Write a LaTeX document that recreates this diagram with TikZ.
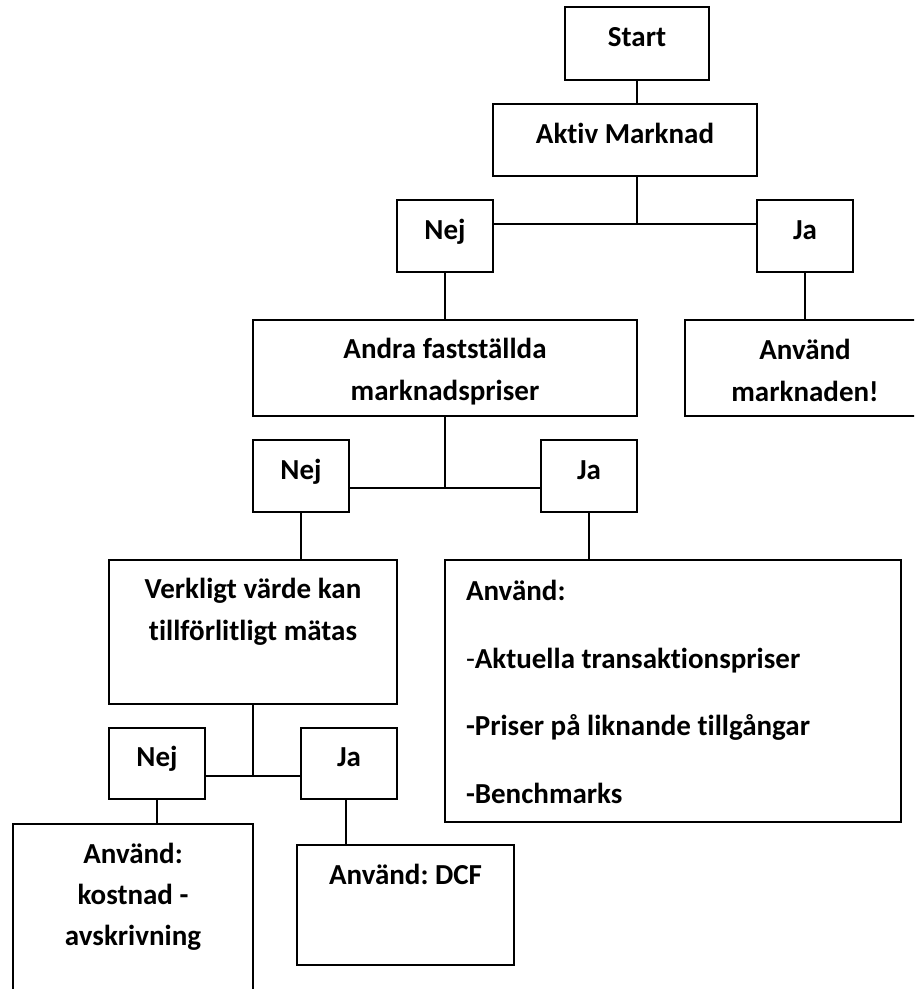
\documentclass[tikz,border=0pt]{standalone}
\usepackage{fontspec}
\setmainfont{Carlito}[Ligatures=NoCommon]

\begin{document}
\begin{tikzpicture}[x=1pt,y=-1pt,semithick,
    every edge/.append style={line width=1.6pt},
    box/.style={draw=black,line width=2pt,inner sep=0pt,align=center,
        font=\bfseries\fontsize{29}{42}\selectfont\frenchspacing},
    short/.style={box,text height=20pt,text depth=14pt}]
            \useasboundingbox (0,0) rectangle (914,989);
            \clip (0,0) rectangle (914,989);
            \node[short,minimum width=144pt,minimum height=73pt](Start)at(637, 43.5){Start};
            \node[short,minimum width=264pt,minimum height=72pt](Aktiv)at(625, 140){Aktiv Marknad};
            \node[short,minimum width=96pt,minimum height=72pt](nej1)at(445, 236){Nej};
            \node[short,minimum width=96pt,minimum height=72pt](ja1)at(805, 236){Ja};
            \node[box](Andra)at(445, 368){\parbox[c][96pt][t]{384pt}{\vspace*{18.5pt}\centering
                Andra fastställda\\marknadspriser}};
            \node[box](marknad)at(805, 368){\parbox[c][96pt][t]{240pt}{\vspace*{19.5pt}\centering
                Använd\\marknaden!}};
            \node[short,minimum width=96pt,minimum height=72pt](nej2)at(301, 476){Nej};
            \node[short,minimum width=96pt,minimum height=72pt](ja2)at(589, 476){Ja};
            \node[box](Verkligt)at(253, 632){\parbox[c][144pt][t]{288pt}{\vspace*{18.5pt}\centering
                Verkligt värde kan\\tillförlitligt mätas}};
            \node[box](lista)at(673, 691){\parbox[c][262pt][t]{456pt}{\vspace*{20pt}\raggedright\leftskip=21pt
                Använd:\\[26pt]{\mdseries -}Aktuella transaktionspriser\\[25pt]-Priser på liknande tillgångar\\[26pt]-Benchmarks}};
            \node[short,minimum width=96pt,minimum height=71pt](nej3)at(157, 763.5){Nej};
            \node[short,minimum width=96pt,minimum height=71pt](ja3)at(349, 763.5){Ja};
            \node[box](kostnad)at(133, 924){\parbox[c][200pt][t]{240pt}{\vspace*{19.5pt}\centering\baselineskip=41pt
                Använd:\\kostnad -\\avskrivning}};
            \node[box](dcf)at(405.5, 905){\parbox[c][120pt][t]{217pt}{\vspace*{19pt}\centering
                Använd: DCF}};
            \coordinate (k1) at (637, 224);
            \coordinate (k2) at (445, 488);
            \coordinate (k3) at (253, 776);
            \path[](Start.south) edge (Start.south |- Aktiv.north)
            (k1 |- Aktiv.south) edge (k1)
            (nej1.east |- k1) edge (ja1.west |- k1)
            (nej1.south) edge (nej1.south |- Andra.north)
            (ja1.south) edge (ja1.south |- marknad.north)
            (Andra.south) edge (k2)
            (nej2.east |- k2) edge (ja2.west |- k2)
            (nej2.south) edge (nej2.south |- Verkligt.north)
            (ja2.south) edge (ja2.south |- lista.north)
            (Verkligt.south) edge (k3)
            (nej3.east |- k3) edge (ja3.west |- k3)
            (nej3.south) edge (nej3.south |- kostnad.north)
            ([xshift=-3pt]ja3.south) edge ([xshift=-3pt]ja3.south |- dcf.north);
        \end{tikzpicture}
\end{document}
